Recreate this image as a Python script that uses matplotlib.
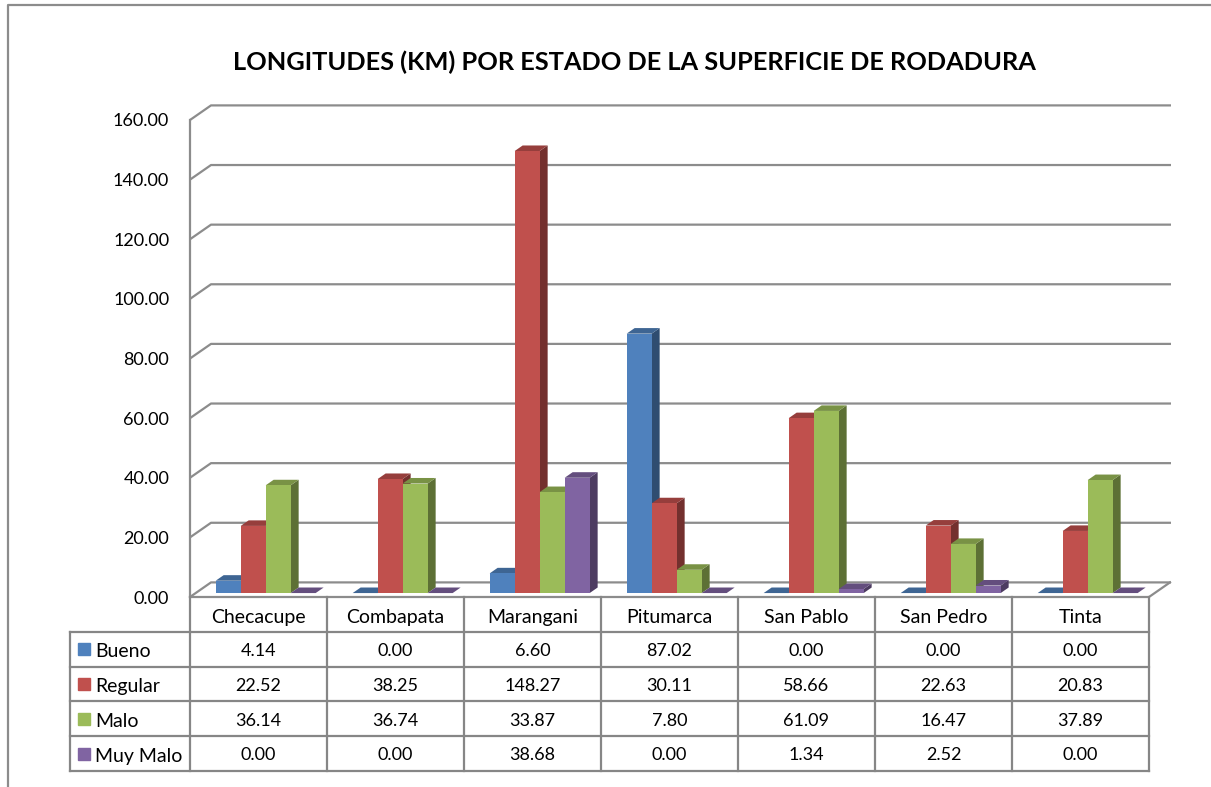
import matplotlib
matplotlib.use("Agg")
import matplotlib.pyplot as plt
from matplotlib.patches import Polygon
from matplotlib.lines import Line2D
from matplotlib.colors import to_rgb

plt.rcParams['font.family'] = ['Lato', 'DejaVu Sans']

# Data
categories = ["Checacupe", "Combapata", "Marangani", "Pitumarca", "San Pablo", "San Pedro", "Tinta"]
series_names = ["Bueno", "Regular", "Malo", "Muy Malo"]
bueno = [4.14, 0.00, 6.60, 87.02, 0.00, 0.00, 0.00]
regular = [22.52, 38.25, 148.27, 30.11, 58.66, 22.63, 20.83]
malo = [36.14, 36.74, 33.87, 7.80, 61.09, 16.47, 37.89]
muy_malo = [0.00, 0.00, 38.68, 0.00, 1.34, 2.52, 0.00]
series = [bueno, regular, malo, muy_malo]
colors = ["#4F81BD", "#C0504D", "#9BBB59", "#8064A2"]
yticks = [0, 20, 40, 60, 80, 100, 120, 140, 160]

title = "LONGITUDES (KM) POR ESTADO DE LA SUPERFICIE DE RODADURA"
grid_color = "#8C8C8C"
W, H = 1211, 787


def shade(c, f):
    r, g, b = to_rgb(c)
    return (r * f, g * f, b * f)


def fig_box(left, top, right, bottom):
    # pixel box -> figure fraction [l, b, w, h]
    return [left / W, (H - bottom) / H, (right - left) / W, (bottom - top) / H]


fig = plt.figure(figsize=(W / 100, H / 100), dpi=100)

# pseudo-3D geometry (data units)
px_x = 137.0           # pixels per category
px_y = 477.0 / 160     # pixels per value unit
wall_dx = 21 / px_x    # depth offset of the back wall
wall_dy = 14.6 / px_y
ymax = yticks[-1]
xmax = len(categories) + wall_dx + 1 / px_x

ax = fig.add_axes(fig_box(190, 597 - (ymax + wall_dy) * px_y, 190 + xmax * px_x, 597))
ax.set_xlim(0, xmax)
ax.set_ylim(0, ymax + wall_dy)
for s in ax.spines.values():
    s.set_visible(False)
ax.set_xticks([])
ax.set_yticks(yticks)
ax.set_yticklabels([f"{v:.2f}" for v in yticks], fontsize=13)
ax.tick_params(axis='y', length=0, pad=15)
ax.patch.set_visible(False)

# walls / gridlines
lw = 1.6
for v in yticks:
    ax.plot([0, wall_dx, xmax], [v, v + wall_dy, v + wall_dy], color=grid_color, lw=lw,
            clip_on=False, zorder=1, solid_capstyle='butt')
n = len(categories)
ax.plot([0, n, n + wall_dx], [0, 0, wall_dy], color=grid_color, lw=lw, clip_on=False, zorder=1)
ax.plot([0, 0], [0, ymax], color=grid_color, lw=lw, clip_on=False, zorder=1)

# bars
bar_w = 25 / px_x
bar_off = 20 / px_x
f0 = 0.27     # front face depth fraction
fd = 0.38     # bar depth fraction
dx0, dy0 = f0 * wall_dx, f0 * wall_dy
dxb, dyb = fd * wall_dx, fd * wall_dy

z = 3.0
for ci in range(n):
    for si, vals in enumerate(series):
        h = vals[ci]
        col = colors[si]
        x0 = ci + bar_off + si * bar_w + dx0
        x1 = x0 + bar_w
        yb, yt = dy0, dy0 + h
        side = Polygon([(x1, yb), (x1 + dxb, yb + dyb), (x1 + dxb, yt + dyb), (x1, yt)],
                       closed=True, facecolor=shade(col, 0.6), edgecolor='none', zorder=z)
        top = Polygon([(x0, yt), (x1, yt), (x1 + dxb, yt + dyb), (x0 + dxb, yt + dyb)],
                      closed=True, facecolor=shade(col, 0.78), edgecolor='none', zorder=z)
        ax.add_patch(side)
        ax.add_patch(top)
        ax.bar(x0, h, width=bar_w, bottom=yb, align='edge', color=col, edgecolor='none',
               zorder=z + 0.001)
        z += 0.01

# data table
tab_left = -120 / px_x
tax = fig.add_axes(fig_box(70, 597, 190 + xmax * px_x, 771))
tax.set_xlim(tab_left, xmax)
tax.set_ylim(5, 0)
tax.axis('off')
tcol = "#868686"
for i in range(n + 1):
    tax.plot([i, i], [0, 5], color=tcol, lw=lw, clip_on=False)
tax.plot([tab_left, tab_left], [1, 5], color=tcol, lw=lw, clip_on=False)
for r in range(1, 6):
    tax.plot([tab_left, n], [r, r], color=tcol, lw=lw, clip_on=False)

for ci, cat in enumerate(categories):
    tax.text(ci + 0.5, 0.6, cat, ha='center', va='center', fontsize=14)
    for si, vals in enumerate(series):
        tax.text(ci + 0.5, si + 1.55, f"{vals[ci]:.2f}", ha='center', va='center', fontsize=13)

for si, name in enumerate(series_names):
    tax.plot([tab_left + 14 / px_x], [si + 1.5], marker='s', markersize=8.6,
             color=colors[si], clip_on=False)
    tax.text(tab_left + 25 / px_x, si + 1.57, name, ha='left', va='center', fontsize=14)

# title and chart border
fig.text(634 / W, 1 - 62 / H, title, ha='center', va='center', fontsize=18.3, fontweight='bold')
fig.add_artist(Line2D([8 / W, 8 / W, 1], [0, 1 - 5 / H, 1 - 5 / H], color="#8C8C8C", lw=1.6))

fig.savefig("out.png", dpi=100)
